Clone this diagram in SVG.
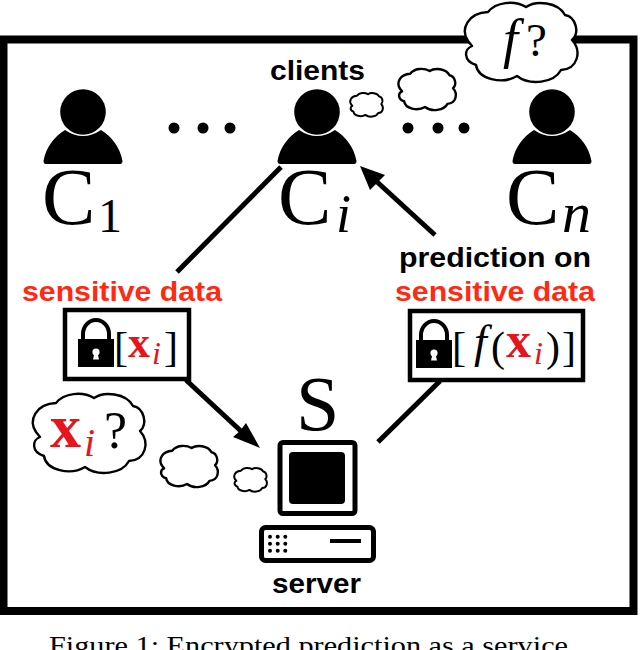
<svg xmlns="http://www.w3.org/2000/svg" xmlns:xlink="http://www.w3.org/1999/xlink" width="640" height="650" viewBox="0 0 640 650">
<style>
.lab{font-family:"Liberation Sans",Arial,sans-serif;font-weight:700;font-size:28px;fill:#000}
.red{fill:#ff2a12}
.m{font-family:"Liberation Serif","Times New Roman",serif;fill:#000}
.mr{fill:#e8141c}
.b{font-weight:700}
.i{font-style:italic}
.cloud{fill:#fff;stroke:#000;stroke-width:2.4;stroke-linejoin:round}
#cl{vector-effect:non-scaling-stroke}
.box{fill:#fff;stroke:#000;stroke-width:4.5}
.conn{stroke:#000;stroke-width:5;fill:none}
</style>
<defs>
<path id="cl" d="M4 38C-4 26 4 10 24 9C32-1 50-3 62 4C72-3 94-1 101 12C112 14 116 30 108 37C118 48 114 66 97 67C90 80 66 83 53 73C38 82 14 76 12 62C-1 58 0 46 8 43Z"/>
<g id="person">
<circle cx="0" cy="0" r="22.8"/>
<path d="M-39.5 49C-37 35-29 25-18 18Q0 30 18 18C29 25 37 35 39.5 49Q39.5 52 37 52H-37Q-39.5 52-39.5 49Z"/>
</g>
<g id="lock">
<path d="M0 21V49H36V21Z"/>
<path d="M5 22V16A13 14 0 0 1 31 16V22" fill="none" stroke="#000" stroke-width="4"/>
<circle cx="18" cy="34" r="3.6" fill="#fff"/>
<path d="M16.500 35H19.500L21 41.500H15Z" fill="#fff"/>
</g>
</defs>
<rect width="640" height="650" fill="#fff"/>
<g id="frame"><rect x="3.500" y="39.500" width="630" height="571.500" fill="none" stroke="#000" stroke-width="8"/></g>

<g id="connectors">
<path class="conn" d="M281 167L177 272"/>
<path class="conn" d="M186 380L243 433"/>
<path d="M260 448L233 437L240 431L246 423Z"/>
<path class="conn" d="M440 381L378 442"/>
<path class="conn" d="M435 235L375 180"/>
<path d="M360 166L385 175L377 183L370 190Z"/>
</g>

<g id="client-1">
<use xlink:href="#person" href="#person" x="83" y="112"/>
<text class="m" x="42" y="224" font-size="80">C</text>
<text class="m" x="98" y="232" font-size="48">1</text>
</g>
<g id="dots-left"><circle cx="174" cy="128" r="5.500"/><circle cx="203" cy="128" r="5.500"/><circle cx="230" cy="128" r="5.500"/></g>
<g id="client-i">
<use xlink:href="#person" href="#person" x="317" y="112"/>
<text class="lab" x="270" y="80" textLength="95" lengthAdjust="spacingAndGlyphs">clients</text>
<text class="m" x="278" y="224" font-size="80">C</text>
<text class="m i" x="336" y="232" font-size="54">i</text>
</g>
<g id="dots-right"><circle cx="408" cy="128" r="5.500"/><circle cx="438" cy="128" r="5.500"/><circle cx="464" cy="128" r="5.500"/></g>
<g id="client-n">
<use xlink:href="#person" href="#person" x="552" y="112"/>
<text class="m" x="506" y="224" font-size="80">C</text>
<text class="m i" x="562" y="232" font-size="58">n</text>
</g>

<g id="cloud-f">
<use class="cloud" xlink:href="#cl" href="#cl" transform="translate(464 3)"/>
<text class="m i" x="503" y="57" font-size="54">f</text>
<text class="m" x="526" y="56" font-size="47">?</text>
</g>
<g id="cloud-client-mid"><use class="cloud" xlink:href="#cl" href="#cl" transform="translate(398 69) scale(.51 .52)"/></g>
<g id="cloud-client-small"><use class="cloud" style="stroke-width:2" xlink:href="#cl" href="#cl" transform="translate(350 93) scale(.29 .3)"/></g>

<g id="label-sensitive-left"><text class="lab red" x="22" y="301" textLength="200" lengthAdjust="spacingAndGlyphs">sensitive data</text></g>
<g id="box-input">
<rect class="box" x="65" y="310" width="124" height="69"/>
<use xlink:href="#lock" href="#lock" x="78" y="318"/>
<text class="m" x="114" y="361" font-size="42">[</text>
<text class="m mr b" x="128" y="357" font-size="44">x</text>
<text class="m mr i" x="152" y="364" font-size="32">i</text>
<text class="m" x="164" y="361" font-size="42">]</text>
</g>

<g id="label-prediction">
<text class="lab" x="399" y="267" textLength="192" lengthAdjust="spacingAndGlyphs">prediction on</text>
<text class="lab red" x="395" y="301" textLength="200" lengthAdjust="spacingAndGlyphs">sensitive data</text>
</g>
<g id="box-output">
<rect class="box" x="410" y="311" width="173" height="69"/>
<use xlink:href="#lock" href="#lock" x="416" y="319"/>
<text class="m" x="452" y="361" font-size="42">[</text>
<text class="m i" x="474" y="357" font-size="46">f</text>
<text class="m" x="491" y="361" font-size="42">(</text>
<text class="m mr b" x="506" y="357" font-size="50">x</text>
<text class="m mr i" x="534" y="364" font-size="32">i</text>
<text class="m" x="546" y="361" font-size="42">)</text>
<text class="m" x="562" y="361" font-size="42">]</text>
</g>

<g id="cloud-x">
<use class="cloud" xlink:href="#cl" href="#cl" transform="translate(32 394)"/>
<text class="m mr b" x="50" y="447" font-size="62">x</text>
<text class="m mr i" x="84" y="456" font-size="40">i</text>
<text class="m" x="104" y="448" font-size="52">?</text>
</g>
<g id="cloud-server-mid"><use class="cloud" xlink:href="#cl" href="#cl" transform="translate(160 446) scale(.51 .52)"/></g>
<g id="cloud-server-small"><use class="cloud" style="stroke-width:2" xlink:href="#cl" href="#cl" transform="translate(234 468) scale(.29 .3)"/></g>

<g id="server">
<text class="m" x="296" y="430" font-size="78">S</text>
<rect x="280" y="442.500" width="75" height="71" rx="3" fill="#fff" stroke="#000" stroke-width="5"/>
<rect x="289" y="452" width="56" height="52" rx="4"/>
<rect x="261.500" y="527.500" width="112" height="33" rx="4" fill="#fff" stroke="#000" stroke-width="5"/>
<path d="M330 541H361" stroke="#000" stroke-width="4"/>
<g>
<circle cx="270" cy="536.700" r="2"/><circle cx="277.700" cy="536.700" r="2"/><circle cx="285.300" cy="536.700" r="2"/>
<circle cx="270" cy="543.700" r="2"/><circle cx="277.700" cy="543.700" r="2"/><circle cx="285.300" cy="543.700" r="2"/>
<circle cx="270" cy="550.700" r="2"/><circle cx="277.700" cy="550.700" r="2"/><circle cx="285.300" cy="550.700" r="2"/>
</g>
<text class="lab" x="272" y="593" textLength="89" lengthAdjust="spacingAndGlyphs">server</text>
</g>

<text class="m" x="49" y="654" font-size="25" textLength="519" lengthAdjust="spacingAndGlyphs">Figure 1: Encrypted prediction as a service</text>
</svg>
